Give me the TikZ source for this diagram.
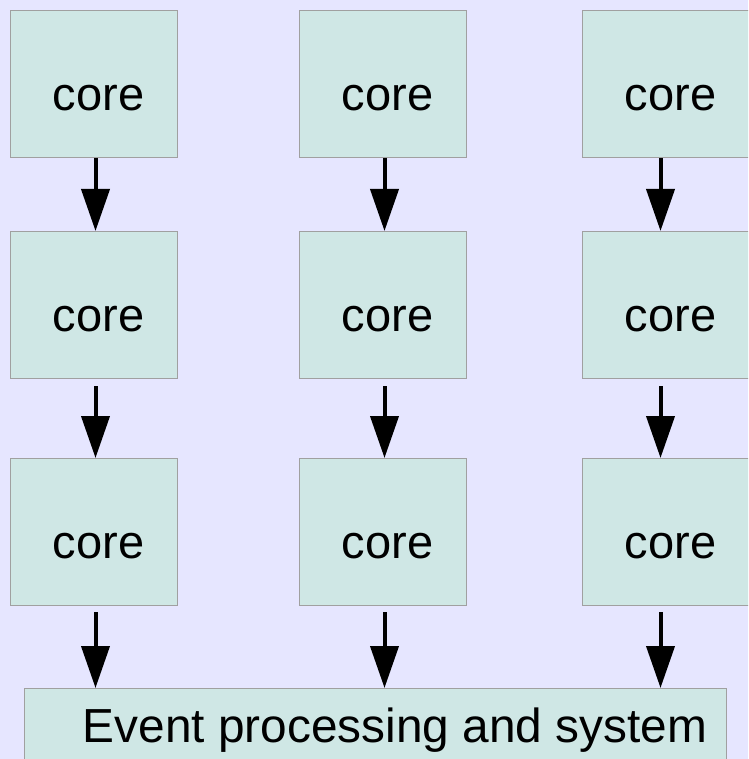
\documentclass[tikz,border=0pt]{standalone}
\usepackage{fontspec}
\setmainfont{Liberation Sans}
\usetikzlibrary{arrows.meta}
\definecolor{bgcol}{HTML}{E6E6FF}
\definecolor{boxfill}{HTML}{CFE7E5}
\definecolor{boxline}{HTML}{A0A0A0}
\tikzset{
  corebox/.style={draw=boxline, fill=boxfill, line width=1pt, rectangle, minimum width=167pt, minimum height=147pt, inner sep=0pt, anchor=north west},
  coretext/.style={anchor=base, inner sep=0pt, font=\fontsize{47}{56}\selectfont},
  flow/.style={line width=4pt, -{Triangle[length=42pt, width=28pt]}},
}
\begin{document}
\begin{tikzpicture}[x=1pt, y=-1pt]
\useasboundingbox (0,0) rectangle (748,759);
\fill[bgcol] (0,0) rectangle (748,759);
\begin{scope}
\clip (0,0) rectangle (748,759);
% boxes
\foreach \c/\x in {1/10, 2/299, 3/582} {
  \foreach \r/\y in {1/10, 2/231, 3/458} {
    \node[corebox] (b\r\c) at (\x,\y) {};
    \node[coretext] (t\r\c) at ([xshift=4.5pt, yshift=-26.5pt]b\r\c.center) {core};
  }
}
\node[draw=boxline, fill=boxfill, line width=1pt, rectangle, minimum width=702.5pt, minimum height=120pt, inner sep=0pt, anchor=north west] (ev) at (23.5,688) {};
\node[coretext, anchor=base west, font=\fontsize{47.8}{56}\selectfont] (evt) at (82.5,742) {Event processing and system};
% arrows
\foreach \c/\dx in {1/1.5, 2/1.5, 3/-5.5} {
  \draw[flow] ([xshift=\dx pt]b1\c.south) -- ([xshift=\dx pt]b2\c.north);
  \draw[flow] ([xshift=\dx pt, yshift=-7pt]b2\c.south) -- ([xshift=\dx pt]b3\c.north);
  \coordinate (e\c) at ([xshift=\dx pt]b3\c.south);
  \draw[flow] ([yshift=-6pt]e\c) -- (e\c |- ev.north);
}
\end{scope}
\end{tikzpicture}
\end{document}
